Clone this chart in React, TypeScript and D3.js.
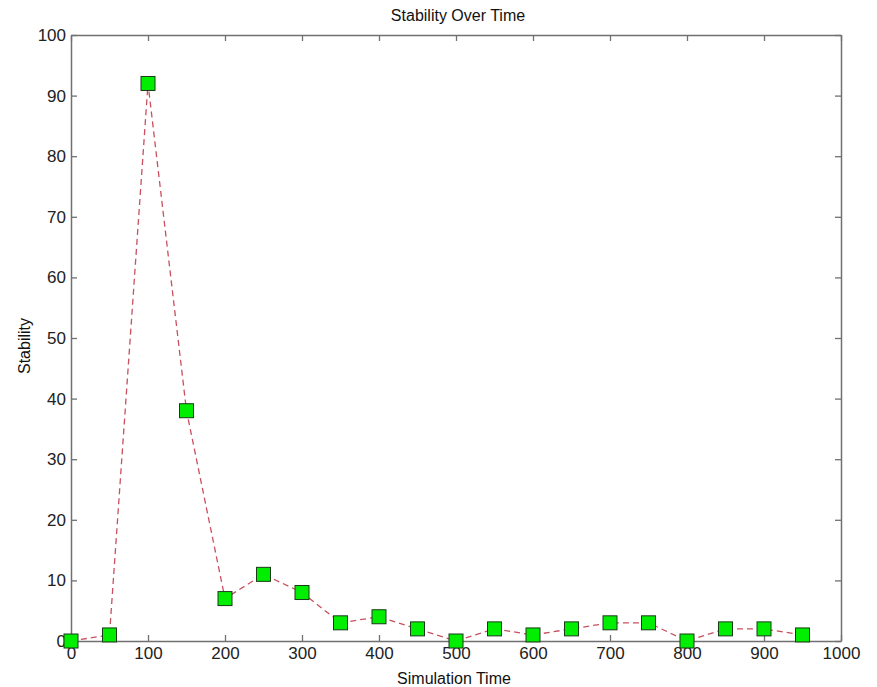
import { useRef, useEffect } from "react";
import * as d3 from "d3";

const times = [0, 50, 100, 150, 200, 250, 300, 350, 400, 450, 500, 550, 600, 650, 700, 750, 800, 850, 900, 950];
const stability = [0, 1, 92, 38, 7, 11, 8, 3, 4, 2, 0, 2, 1, 2, 3, 3, 0, 2, 2, 1];
const xTicks = [0, 100, 200, 300, 400, 500, 600, 700, 800, 900, 1000];
const yTicks = [0, 10, 20, 30, 40, 50, 60, 70, 80, 90, 100];

const App = () => {
	const svgRef = useRef<SVGSVGElement>(null);

	useEffect(() => {
		const w = 877;
		const h = 687;
		const m = { left: 71, right: 36, top: 35, bottom: 46 };
		const svg = d3.select(svgRef.current)
			.attr("width", w)
			.attr("height", h)
			.style("font-family", "Liberation Sans, Arial, sans-serif");
		svg.selectAll("*").remove();

		const x = d3.scaleLinear().domain([0, 1000]).range([m.left, w - m.right]);
		const y = d3.scaleLinear().domain([0, 100]).range([h - m.bottom, m.top]);

		const axisColor = "#707070";
		const tk = 6;
		const fmt = d3.format("d");

		// ticks on all four sides, pointing in
		const bottom = svg.append("g")
			.attr("transform", `translate(0, ${y(0)})`)
			.call(d3.axisBottom(x).tickValues(xTicks).tickFormat(fmt).tickSize(-tk).tickPadding(6).tickSizeOuter(0));
		const top = svg.append("g")
			.attr("transform", `translate(0, ${y(100)})`)
			.call(d3.axisTop(x).tickValues(xTicks).tickSize(-tk).tickFormat(() => "").tickSizeOuter(0));
		const left = svg.append("g")
			.attr("transform", `translate(${x(0)}, 0)`)
			.call(d3.axisLeft(y).tickValues(yTicks).tickFormat(fmt).tickSize(-tk).tickPadding(5).tickSizeOuter(0));
		const right = svg.append("g")
			.attr("transform", `translate(${x(1000)}, 0)`)
			.call(d3.axisRight(y).tickValues(yTicks).tickSize(-tk).tickFormat(() => "").tickSizeOuter(0));

		[bottom, top, left, right].forEach((g) => {
			g.select(".domain").attr("stroke", axisColor).attr("stroke-width", 1.5);
			g.selectAll(".tick line").attr("stroke", axisColor).attr("stroke-width", 1.3);
			g.selectAll(".tick text")
				.attr("fill", "#222")
				.style("font-size", "17px")
				.style("font-family", "Liberation Sans, Arial, sans-serif");
		});

		// Data line
		const line = d3.line<number>()
			.x((d, i) => x(times[i]))
			.y((d) => y(d));

		svg.append("path")
			.datum(stability)
			.attr("fill", "none")
			.attr("stroke", "#c8505f")
			.attr("stroke-width", 1.3)
			.attr("stroke-dasharray", "6,4")
			.attr("d", line);

		const s = 14;
		svg.append("g")
			.selectAll("rect")
			.data(stability)
			.join("rect")
			.attr("x", (d, i) => x(times[i]) - s / 2)
			.attr("y", (d) => y(d) - s / 2)
			.attr("width", s)
			.attr("height", s)
			.attr("fill", "#00ee00")
			.attr("stroke", "#1a3a1a")
			.attr("stroke-width", 1);

		// Labels
		svg.append("text")
			.attr("x", (x(0) + x(1000)) / 2 + 2)
			.attr("y", 21)
			.attr("text-anchor", "middle")
			.attr("fill", "#111")
			.style("font-size", "16px")
			.text("Stability Over Time");

		svg.append("text")
			.attr("x", (x(0) + x(1000)) / 2 - 2)
			.attr("y", 684)
			.attr("text-anchor", "middle")
			.attr("fill", "#111")
			.style("font-size", "16px")
			.text("Simulation Time");

		svg.append("text")
			.attr("transform", `translate(30, ${(y(0) + y(100)) / 2 + 8}) rotate(-90)`)
			.attr("text-anchor", "middle")
			.attr("fill", "#111")
			.style("font-size", "16px")
			.text("Stability");
	}, []);

	return (
		<svg ref={svgRef} style={{ position: "absolute", left: 0, top: 0 }}></svg>
	);
};

export default App;
